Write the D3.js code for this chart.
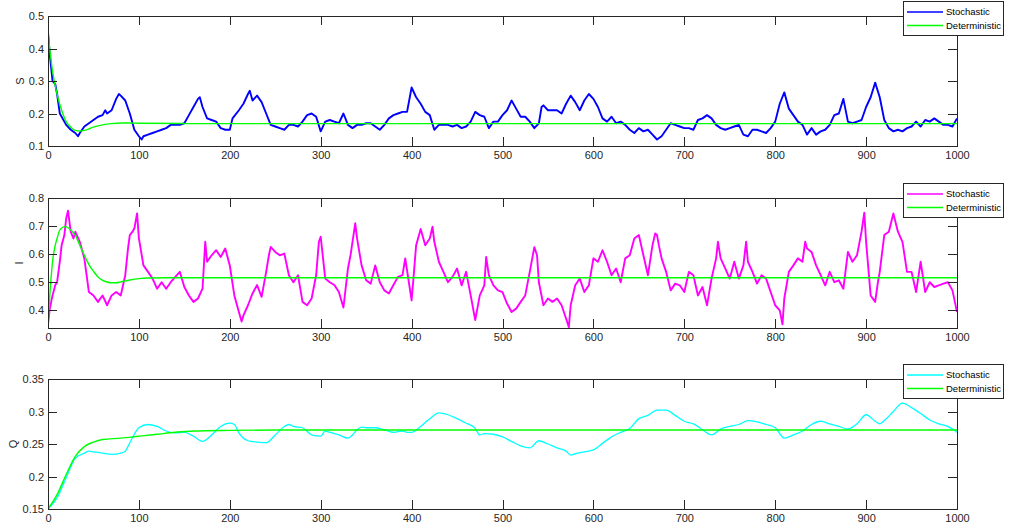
<!DOCTYPE html>
<html lang="en">
<head>
    <meta charset="UTF-8">
    <title>S I Q stochastic vs deterministic</title>
    <script src="https://d3js.org/d3.v7.min.js"></script>
    <style>
        body {margin: 0; background: #fff}
        text {font-family: 'Liberation Sans', Arial, sans-serif; fill: #262626}
        .axis text {font-size: 11px}
        .axis path {display: none}
        .axis line {stroke: #262626; shape-rendering: crispEdges}
        .legend text {font-size: 9.5px; fill: #000}
    </style>
</head>
<body>
<script>
    // [t, value]
    const sStochastic = [[0,0.45],[2,0.38],[5,0.30],[8,0.29],[10,0.26],[13,0.20],[15,0.19],[20,0.165],[25,0.15],[30,0.14],[33,0.13],[35,0.14],[40,0.16],[45,0.17],[50,0.18],[55,0.19],[60,0.195],[63,0.21],[65,0.2],[70,0.21],[75,0.245],[78,0.26],[80,0.255],[85,0.24],[90,0.2],[95,0.15],[100,0.13],[103,0.12],[105,0.13],[110,0.135],[115,0.14],[120,0.145],[125,0.15],[130,0.155],[135,0.165],[140,0.165],[145,0.165],[150,0.17],[155,0.195],[160,0.22],[165,0.245],[167,0.25],[170,0.22],[175,0.185],[180,0.18],[185,0.175],[190,0.155],[195,0.15],[200,0.15],[203,0.185],[210,0.21],[215,0.23],[220,0.26],[222,0.27],[225,0.24],[230,0.255],[235,0.235],[240,0.2],[245,0.165],[250,0.16],[255,0.155],[260,0.15],[265,0.165],[270,0.165],[275,0.16],[280,0.175],[285,0.195],[290,0.2],[295,0.19],[300,0.145],[305,0.175],[310,0.18],[315,0.175],[320,0.17],[325,0.2],[330,0.165],[335,0.155],[340,0.165],[345,0.165],[350,0.17],[355,0.17],[360,0.16],[365,0.15],[370,0.165],[375,0.185],[380,0.195],[385,0.2],[390,0.205],[395,0.205],[400,0.28],[405,0.25],[410,0.23],[415,0.205],[420,0.195],[425,0.15],[430,0.165],[435,0.165],[440,0.165],[445,0.16],[450,0.165],[455,0.155],[460,0.16],[465,0.175],[470,0.205],[475,0.195],[480,0.19],[485,0.155],[490,0.175],[495,0.175],[500,0.195],[505,0.21],[510,0.24],[515,0.215],[520,0.19],[525,0.19],[530,0.175],[535,0.155],[540,0.17],[543,0.22],[545,0.225],[550,0.21],[555,0.21],[560,0.21],[565,0.2],[570,0.23],[575,0.255],[580,0.235],[585,0.21],[590,0.24],[595,0.26],[600,0.245],[605,0.22],[610,0.185],[615,0.175],[620,0.19],[625,0.17],[630,0.175],[635,0.165],[640,0.15],[645,0.14],[650,0.155],[655,0.145],[660,0.15],[665,0.135],[670,0.12],[675,0.13],[680,0.15],[685,0.17],[690,0.165],[695,0.16],[700,0.155],[705,0.155],[710,0.15],[715,0.18],[720,0.185],[725,0.195],[730,0.185],[735,0.165],[740,0.155],[745,0.15],[750,0.155],[755,0.16],[760,0.165],[765,0.135],[770,0.13],[775,0.15],[780,0.15],[785,0.145],[790,0.14],[795,0.155],[800,0.175],[805,0.23],[810,0.265],[815,0.215],[820,0.195],[825,0.175],[830,0.165],[835,0.135],[840,0.155],[845,0.135],[850,0.145],[855,0.15],[860,0.165],[865,0.195],[870,0.2],[875,0.245],[880,0.175],[885,0.17],[890,0.175],[895,0.18],[900,0.22],[905,0.25],[910,0.295],[915,0.25],[920,0.18],[925,0.155],[930,0.145],[935,0.15],[940,0.145],[945,0.155],[950,0.16],[955,0.175],[960,0.16],[965,0.18],[970,0.175],[975,0.185],[980,0.175],[985,0.165],[990,0.165],[995,0.16],[1000,0.185]];
    const sDeterministic = [[0,0.45],[5,0.33],[10,0.26],[15,0.21],[20,0.175],[25,0.158],[30,0.148],[35,0.146],[40,0.148],[50,0.158],[60,0.165],[70,0.169],[80,0.171],[90,0.171],[100,0.17],[150,0.169],[1000,0.169]];

    const iStochastic = [[0,0.352],[2,0.406],[5,0.453],[8,0.49],[10,0.5],[13,0.573],[15,0.632],[18,0.668],[20,0.727],[22,0.755],[25,0.68],[28,0.656],[30,0.68],[35,0.644],[40,0.584],[45,0.465],[50,0.453],[55,0.43],[60,0.453],[65,0.418],[70,0.453],[75,0.465],[80,0.453],[85,0.525],[88,0.62],[90,0.668],[93,0.68],[95,0.692],[98,0.745],[100,0.656],[105,0.56],[110,0.537],[115,0.513],[120,0.477],[125,0.5],[130,0.477],[135,0.5],[140,0.519],[145,0.537],[150,0.483],[155,0.453],[160,0.43],[165,0.442],[170,0.477],[173,0.644],[175,0.573],[180,0.596],[185,0.614],[190,0.59],[195,0.62],[200,0.56],[205,0.453],[210,0.394],[213,0.36],[215,0.382],[220,0.418],[225,0.46],[230,0.49],[235,0.448],[240,0.537],[243,0.596],[245,0.626],[250,0.608],[255,0.596],[260,0.602],[265,0.525],[270,0.5],[275,0.525],[280,0.43],[285,0.418],[290,0.442],[295,0.525],[298,0.644],[300,0.662],[305,0.513],[310,0.5],[315,0.49],[320,0.465],[325,0.41],[330,0.549],[333,0.6],[338,0.71],[340,0.656],[345,0.56],[350,0.507],[355,0.495],[360,0.56],[365,0.5],[370,0.471],[375,0.46],[380,0.49],[385,0.519],[390,0.525],[393,0.585],[397,0.5],[400,0.435],[402,0.513],[405,0.632],[410,0.69],[415,0.632],[420,0.656],[423,0.698],[425,0.644],[430,0.573],[435,0.537],[440,0.5],[445,0.519],[450,0.549],[455,0.489],[460,0.537],[465,0.453],[470,0.365],[475,0.453],[480,0.489],[482,0.59],[485,0.525],[490,0.489],[495,0.471],[500,0.465],[505,0.424],[510,0.394],[515,0.406],[520,0.43],[525,0.453],[530,0.537],[535,0.625],[538,0.596],[540,0.5],[545,0.418],[550,0.442],[555,0.43],[560,0.442],[565,0.418],[570,0.37],[573,0.34],[575,0.418],[580,0.489],[585,0.513],[590,0.465],[595,0.489],[600,0.585],[605,0.573],[610,0.614],[615,0.573],[620,0.525],[625,0.549],[630,0.5],[635,0.585],[640,0.596],[645,0.656],[650,0.668],[655,0.596],[660,0.525],[665,0.632],[668,0.674],[670,0.668],[672,0.632],[675,0.585],[680,0.537],[685,0.471],[690,0.495],[695,0.489],[700,0.465],[705,0.537],[710,0.525],[715,0.453],[720,0.483],[725,0.418],[730,0.513],[735,0.585],[737,0.644],[740,0.585],[745,0.549],[750,0.513],[755,0.573],[760,0.513],[765,0.56],[768,0.644],[770,0.573],[775,0.537],[780,0.495],[785,0.525],[790,0.513],[795,0.465],[800,0.418],[805,0.4],[808,0.35],[810,0.442],[815,0.537],[820,0.56],[825,0.585],[830,0.573],[833,0.644],[835,0.62],[840,0.608],[845,0.56],[850,0.525],[855,0.489],[860,0.537],[865,0.5],[870,0.507],[875,0.477],[880,0.608],[885,0.573],[890,0.596],[895,0.68],[898,0.748],[900,0.644],[905,0.453],[910,0.43],[913,0.5],[915,0.537],[920,0.668],[925,0.68],[930,0.745],[935,0.68],[940,0.644],[945,0.537],[950,0.537],[955,0.465],[960,0.573],[965,0.465],[970,0.5],[975,0.483],[980,0.489],[985,0.495],[990,0.5],[995,0.471],[1000,0.394]];
    const iDeterministic = [[0,0.35],[3,0.5],[5,0.573],[8,0.632],[10,0.656],[13,0.686],[16,0.695],[19,0.698],[22,0.694],[25,0.686],[30,0.668],[35,0.632],[40,0.596],[45,0.563],[50,0.539],[55,0.519],[60,0.507],[65,0.501],[70,0.498],[75,0.498],[80,0.501],[90,0.508],[100,0.513],[110,0.515],[130,0.516],[1000,0.516]];

    const qStochastic = [[0,0.15],[10,0.167],[20,0.198],[30,0.228],[40,0.236],[45,0.239],[50,0.238],[60,0.236],[70,0.234],[80,0.236],[85,0.239],[90,0.252],[100,0.275],[110,0.28],[120,0.277],[130,0.27],[140,0.267],[150,0.268],[160,0.262],[170,0.254],[180,0.264],[190,0.277],[200,0.282],[205,0.28],[210,0.267],[220,0.255],[230,0.253],[240,0.252],[250,0.264],[260,0.277],[265,0.28],[270,0.277],[280,0.275],[290,0.264],[300,0.262],[305,0.27],[310,0.268],[320,0.264],[330,0.259],[335,0.264],[340,0.272],[345,0.276],[350,0.275],[360,0.275],[370,0.272],[380,0.268],[390,0.27],[395,0.268],[400,0.268],[410,0.277],[420,0.289],[430,0.298],[440,0.295],[450,0.289],[460,0.282],[470,0.274],[475,0.264],[480,0.266],[490,0.265],[500,0.261],[510,0.254],[520,0.247],[530,0.244],[540,0.255],[550,0.25],[560,0.244],[570,0.239],[575,0.233],[580,0.235],[590,0.238],[600,0.241],[610,0.251],[620,0.261],[630,0.268],[640,0.274],[650,0.289],[660,0.294],[670,0.302],[680,0.302],[690,0.294],[700,0.285],[710,0.281],[720,0.272],[730,0.264],[740,0.273],[750,0.277],[760,0.28],[770,0.286],[780,0.284],[790,0.28],[800,0.275],[810,0.259],[820,0.264],[830,0.27],[840,0.28],[850,0.285],[860,0.281],[870,0.277],[880,0.273],[890,0.281],[900,0.295],[910,0.285],[915,0.281],[920,0.286],[930,0.3],[940,0.313],[950,0.306],[960,0.297],[970,0.287],[980,0.281],[990,0.277],[1000,0.268]];
    const qDeterministic = [[0,0.15],[10,0.172],[20,0.203],[30,0.231],[40,0.246],[50,0.253],[60,0.257],[80,0.259],[100,0.262],[120,0.265],[140,0.268],[160,0.27],[200,0.271],[250,0.2715],[1000,0.2715]];

    const xTicks = [0, 100, 200, 300, 400, 500, 600, 700, 800, 900, 1000];
    const sTicks = [0.1, 0.2, 0.3, 0.4, 0.5];
    const iTicks = [0.4, 0.5, 0.6, 0.7, 0.8];
    const qTicks = [0.15, 0.2, 0.25, 0.3, 0.35];
    const legendLabels = ["Stochastic", "Deterministic"];

    const width = 1009, height = 531;
    const left = 48, right = 957, plotH = 130, tickLen = 9;

    const panels = [
        {label: "S", labelX: 20, top: 16,  domain: [0.1, 0.5],   ticks: sTicks, stoch: sStochastic, det: sDeterministic, color: "#0000ff", sw: 1.9, curve: d3.curveLinear},
        {label: "I", labelX: 19, top: 198, domain: [0.337, 0.8], ticks: iTicks, stoch: iStochastic, det: iDeterministic, color: "#ff00ff", sw: 1.9, curve: d3.curveLinear},
        {label: "Q", labelX: 13, top: 379, domain: [0.15, 0.35], ticks: qTicks, stoch: qStochastic, det: qDeterministic, color: "#00ffff", sw: 1.3, curve: d3.curveMonotoneX}
    ];

    const svg = d3.select("body").append("svg")
        .attr("width", width)
        .attr("height", height);

    const x = d3.scaleLinear().domain([0, 1000]).range([0, right - left]);

    panels.forEach((p, k) => {
        const y = d3.scaleLinear().domain(p.domain).range([plotH, 0]);
        const g = svg.append("g").attr("transform", `translate(${left},${p.top})`);

        g.append("clipPath").attr("id", "clip" + k)
            .append("rect").attr("width", right - left).attr("height", plotH);

        const line = d3.line().x(d => x(d[0])).y(d => y(d[1]));

        const lines = g.append("g").attr("clip-path", `url(#clip${k})`);
        lines.append("path")
            .attr("d", line.curve(p.curve)(p.stoch))
            .attr("fill", "none")
            .attr("stroke", p.color)
            .attr("stroke-width", p.sw)
            .attr("stroke-linejoin", "round");
        lines.append("path")
            .attr("d", line.curve(d3.curveMonotoneX)(p.det))
            .attr("fill", "none")
            .attr("stroke", "#00ff00")
            .attr("stroke-width", 1.4);

        // axes, ticks pointing inward on all four sides
        g.append("g").attr("class", "axis")
            .attr("transform", `translate(0,${plotH})`)
            .call(d3.axisBottom(x).tickValues(xTicks).tickSize(-tickLen).tickPadding(5).tickFormat(d3.format("d")));
        g.append("g").attr("class", "axis")
            .call(d3.axisTop(x).tickValues(xTicks).tickSize(-tickLen).tickFormat(""));
        g.append("g").attr("class", "axis")
            .call(d3.axisLeft(y).tickValues(p.ticks).tickSize(-tickLen).tickPadding(4).tickFormat(d => String(d)));
        g.append("g").attr("class", "axis")
            .attr("transform", `translate(${right - left},0)`)
            .call(d3.axisRight(y).tickValues(p.ticks).tickSize(-tickLen).tickFormat(""));

        g.append("rect")
            .attr("width", right - left).attr("height", plotH)
            .attr("fill", "none").attr("stroke", "#262626").attr("stroke-width", 1)
            .attr("shape-rendering", "crispEdges");

        g.append("text")
            .attr("transform", `translate(${p.labelX - left},${plotH / 2}) rotate(-90)`)
            .attr("text-anchor", "middle")
            .attr("dy", "0.35em")
            .style("font-size", "11px")
            .text(p.label);

        // legend
        const lg = svg.append("g").attr("class", "legend")
            .attr("transform", `translate(903,${p.top - 15})`);
        lg.append("rect")
            .attr("width", 100).attr("height", 34)
            .attr("fill", "#fff").attr("stroke", "#262626").attr("stroke-width", 1)
            .attr("shape-rendering", "crispEdges");
        legendLabels.forEach((name, j) => {
            const ly = 11 + j * 13.5;
            lg.append("line")
                .attr("x1", 4).attr("x2", 40).attr("y1", ly).attr("y2", ly)
                .attr("stroke", j === 0 ? p.color : "#00ff00")
                .attr("stroke-width", 1.3);
            lg.append("text")
                .attr("x", 43).attr("y", ly).attr("dy", "0.35em")
                .attr("textLength", j === 1 ? 55 : null)
                .text(name);
        });
    });
</script>
</body>
</html>
